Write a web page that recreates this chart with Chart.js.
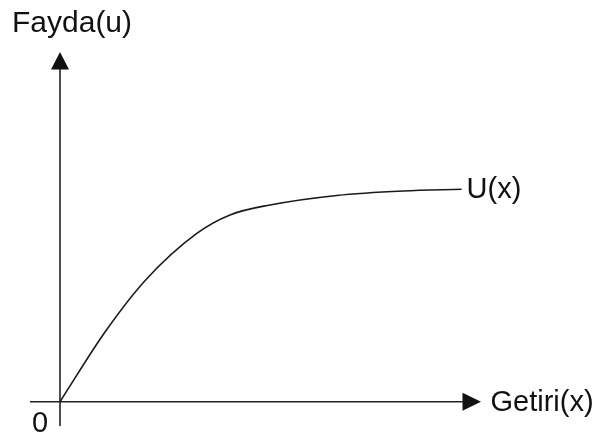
<!DOCTYPE html>
<html>
<head>
<meta charset="utf-8">
<script src="https://cdn.jsdelivr.net/npm/chart.js@4"></script>
<style>
  html, body { margin: 0; padding: 0; background: #ffffff; }
  #wrap { width: 598px; height: 436px; }
</style>
</head>
<body>
<div id="wrap"><canvas id="c" width="598" height="436"></canvas></div>
<script>
// Return (x) and utility U(x) sampled along the curve
const returnX = [0, 1.13, 2.13, 3.42, 4.25, 5.25, 6.92, 8.58, 10.04];
const utilityU = [0, 3.30, 5.72, 7.94, 8.81, 9.28, 9.73, 9.94, 10.02];

// Axis extents (data units) and texts
const xAxisRange = [-0.75, 10.525];
const yAxisRange = [-1.146, 16.495];
const yAxisTitle = 'Fayda(u)';
const xAxisTitle = 'Getiri(x)';
const curveLabel = 'U(x)';
const originLabel = '0';

const FAMILY = '"Liberation Sans", Arial, sans-serif';
const INK = '#111111';

const points = returnX.map((x, i) => ({ x: x, y: utilityU[i] }));

// Draws the two arrowed axes and the text labels around them
const axesPlugin = {
  id: 'arrowAxes',
  beforeDatasetsDraw(chart) {
    const ctx = chart.ctx;
    const xs = chart.scales.x, ys = chart.scales.y;
    const ox = xs.getPixelForValue(0), oy = ys.getPixelForValue(0);
    const xEnd = xs.getPixelForValue(xs.max), xStart = xs.getPixelForValue(xs.min);
    const yTop = ys.getPixelForValue(ys.max), yBottom = ys.getPixelForValue(ys.min);
    ctx.save();
    ctx.strokeStyle = '#222222';
    ctx.fillStyle = '#111111';
    ctx.lineWidth = 1.6;
    // horizontal axis
    ctx.beginPath();
    ctx.moveTo(xStart, oy);
    ctx.lineTo(xEnd - 10, oy);
    ctx.stroke();
    // vertical axis
    ctx.beginPath();
    ctx.moveTo(ox, yBottom);
    ctx.lineTo(ox, yTop + 10);
    ctx.stroke();
    // arrow heads
    ctx.beginPath();
    ctx.moveTo(xEnd, oy);
    ctx.lineTo(xEnd - 18.5, oy - 9);
    ctx.lineTo(xEnd - 18.5, oy + 9);
    ctx.closePath();
    ctx.fill();
    ctx.beginPath();
    ctx.moveTo(ox, yTop);
    ctx.lineTo(ox - 9, yTop + 17.5);
    ctx.lineTo(ox + 9, yTop + 17.5);
    ctx.closePath();
    ctx.fill();
    ctx.restore();
  },
  afterDatasetsDraw(chart) {
    const ctx = chart.ctx;
    const xs = chart.scales.x, ys = chart.scales.y;
    const ox = xs.getPixelForValue(0), oy = ys.getPixelForValue(0);
    const xEnd = xs.getPixelForValue(xs.max);
    const yTop = ys.getPixelForValue(ys.max);
    const last = points[points.length - 1];
    const lx = xs.getPixelForValue(last.x), ly = ys.getPixelForValue(last.y);
    ctx.save();
    ctx.fillStyle = INK;
    ctx.textBaseline = 'alphabetic';
    ctx.textAlign = 'left';
    ctx.font = '30px ' + FAMILY;
    ctx.fillText(yAxisTitle, ox - 48, yTop - 20);
    ctx.font = '29px ' + FAMILY;
    ctx.fillText(xAxisTitle, xEnd + 9.5, oy + 9);
    ctx.fillText(curveLabel, lx + 5, ly + 8.5);
    ctx.fillText(originLabel, ox - 28, oy + 30);
    ctx.restore();
  }
};

new Chart(document.getElementById('c'), {
  type: 'line',
  data: {
    datasets: [{
      data: points,
      borderColor: '#1a1a1a',
      borderWidth: 1.6,
      pointRadius: 0,
      fill: false,
      cubicInterpolationMode: 'monotone',
      clip: false
    }]
  },
  options: {
    responsive: false,
    animation: false,
    devicePixelRatio: 1,
    layout: { padding: { left: 30, right: 117, top: 52, bottom: 10 } },
    plugins: { legend: { display: false }, tooltip: { enabled: false }, title: { display: false } },
    scales: {
      x: { type: 'linear', min: xAxisRange[0], max: xAxisRange[1], display: false },
      y: { type: 'linear', min: yAxisRange[0], max: yAxisRange[1], display: false }
    }
  },
  plugins: [axesPlugin]
});
</script>
</body>
</html>
